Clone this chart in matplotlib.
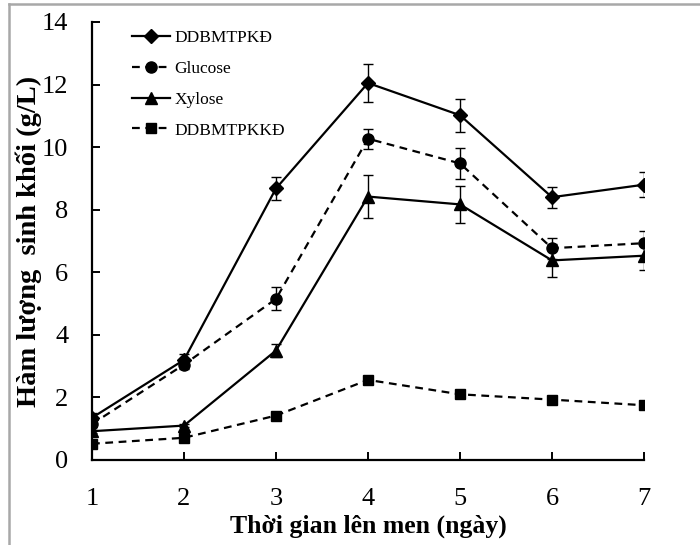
import matplotlib
matplotlib.use("Agg")
import matplotlib.pyplot as plt
from matplotlib.lines import Line2D

plt.rcParams['font.family'] = ['Liberation Serif', 'DejaVu Serif']

days = [1, 2, 3, 4, 5, 6, 7]

# DDBMTPKĐ
ddbm_kd = [1.35, 3.2, 8.68, 12.05, 11.02, 8.4, 8.8]
ddbm_kd_err = [0.15, 0.2, 0.38, 0.6, 0.53, 0.33, 0.39]
# Glucose
glucose = [1.15, 3.05, 5.15, 10.27, 9.48, 6.77, 6.93]
glucose_err = [0.1, 0.15, 0.37, 0.32, 0.49, 0.33, 0.4]
# Xylose
xylose = [0.92, 1.1, 3.5, 8.42, 8.17, 6.38, 6.53]
xylose_err = [0.05, 0.05, 0.2, 0.7, 0.6, 0.54, 0.47]
# DDBMTPKKĐ
ddbm_kkd = [0.52, 0.71, 1.42, 2.56, 2.1, 1.93, 1.75]
ddbm_kkd_err = [0.05, 0.05, 0.05, 0.06, 0.05, 0.05, 0.05]

labels = ['DDBMTPKĐ', 'Glucose', 'Xylose', 'DDBMTPKKĐ']
markers = ['D', 'o', '^', 's']
msizes = [7, 8, 8, 6.5]

fig = plt.figure(figsize=(7, 5.45), dpi=100)
ax = fig.add_axes([92/700, 1 - 460/545, (644 - 92)/700, (460 - 22)/545])

dash = (3.5, 2.5)
styles = ['-', (0, dash), '-', (0, dash)]
common = dict(color='black', lw=1.6, ecolor='black', elinewidth=1.0, capsize=3.5, capthick=1.0)

series = [(ddbm_kd, ddbm_kd_err), (glucose, glucose_err), (xylose, xylose_err), (ddbm_kkd, ddbm_kkd_err)]
handles = []
for (vals, errs), lab, m, ms, st in zip(series, labels, markers, msizes, styles):
    ax.errorbar(days, vals, yerr=errs, marker=m, ms=ms, ls=st, **common)
    handles.append(Line2D([], [], color='black', lw=1.6, ls=st, marker=m, ms=ms, label=lab))

ax.set_xlim(1, 7)
ax.set_ylim(0, 14)
ax.set_xticks(days)
ax.set_yticks(range(0, 15, 2))
for s in ['top', 'right']:
    ax.spines[s].set_visible(False)
for s in ['left', 'bottom']:
    ax.spines[s].set_linewidth(1.6)
ax.tick_params(axis='both', direction='in', length=6, width=1.4, labelsize=19)
ax.tick_params(axis='y', pad=17)
ax.tick_params(axis='x', pad=20)

ax.set_xlabel('Thời gian lên men (ngày)', fontsize=18.5, fontweight='bold')
ax.set_ylabel('Hàm lượng  sinh khối (g/L)', fontsize=20.5, fontweight='bold')
ax.xaxis.set_label_coords(0.5, (460 - 515) / 438)
ax.yaxis.set_label_coords((42 - 92) / 552, 0.5)

ax.legend(handles=handles, loc='upper left', bbox_to_anchor=(116/700, 1 - 14/545),
          bbox_transform=fig.transFigure, frameon=False, fontsize=12.5,
          handlelength=2.2, handletextpad=0.25, labelspacing=0.85, numpoints=1)

# gray frame of the screenshot
fig.add_artist(Line2D([9/700, 1], [1 - 4/545, 1 - 4/545], transform=fig.transFigure, color='#a8a8a8', lw=1.8))
fig.add_artist(Line2D([9/700, 9/700], [0, 1 - 4/545], transform=fig.transFigure, color='#a8a8a8', lw=1.8))

fig.savefig('out.png', dpi=100)
